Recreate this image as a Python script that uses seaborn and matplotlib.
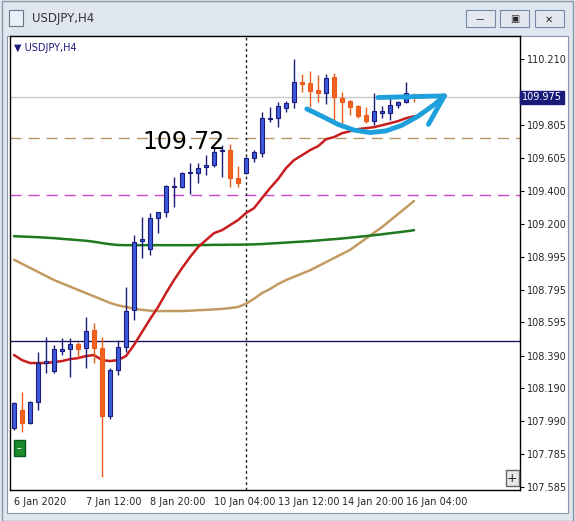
import numpy as np
import pandas as pd
import matplotlib.pyplot as plt
import seaborn as sns
from matplotlib.patches import Rectangle

sns.set_style("white")
plt.rcParams['font.family'] = ['DejaVu Sans']

# H4 candles, 6 Jan 2020 00:00 onward (prices)
opens = [107.947, 108.057, 107.978, 108.106, 108.346, 108.297, 108.419, 108.431, 108.462, 108.438,
         108.548, 108.438, 108.021, 108.303, 108.444, 108.671, 109.094, 109.045, 109.235, 109.272,
         109.425, 109.425, 109.511, 109.511, 109.548, 109.560, 109.646, 109.652, 109.480, 109.511,
         109.603, 109.633, 109.842, 109.848, 109.909, 109.946, 110.069, 110.063, 110.020, 110.001,
         110.100, 109.971, 109.952, 109.922, 109.867, 109.830, 109.879, 109.879, 109.928, 109.946,
         109.990]
closes = [108.100, 107.978, 108.106, 108.346, 108.358, 108.431, 108.431, 108.462, 108.431, 108.542,
          108.438, 108.021, 108.303, 108.444, 108.665, 109.088, 109.106, 109.235, 109.272, 109.431,
          109.431, 109.511, 109.517, 109.542, 109.560, 109.640, 109.652, 109.480, 109.450, 109.603,
          109.640, 109.848, 109.848, 109.922, 109.940, 110.069, 110.057, 110.014, 110.001, 110.093,
          109.977, 109.946, 109.916, 109.860, 109.830, 109.891, 109.891, 109.928, 109.946, 110.001,
          109.975]
highs = [108.106, 108.168, 108.110, 108.413, 108.505, 108.456, 108.499, 108.499, 108.474, 108.628,
         108.591, 108.505, 108.315, 108.487, 108.812, 109.131, 109.241, 109.266, 109.272, 109.437,
         109.486, 109.517, 109.572, 109.572, 109.621, 109.664, 109.683, 109.689, 109.554, 109.609,
         109.652, 109.885, 109.916, 109.946, 109.952, 110.210, 110.118, 110.136, 110.112, 110.118,
         110.124, 110.008, 109.959, 109.928, 109.916, 110.001, 109.922, 109.989, 109.952, 110.069,
         110.000]
lows = [107.935, 107.922, 107.970, 108.057, 108.284, 108.284, 108.395, 108.260, 108.376, 108.315,
        108.346, 107.646, 108.002, 108.272, 108.413, 108.609, 108.990, 109.008, 109.143, 109.241,
        109.302, 109.419, 109.382, 109.450, 109.499, 109.548, 109.486, 109.425, 109.425, 109.505,
        109.578, 109.609, 109.824, 109.793, 109.885, 109.909, 110.008, 109.916, 109.946, 109.934,
        109.824, 109.817, 109.867, 109.848, 109.817, 109.805, 109.848, 109.836, 109.909, 109.940,
        109.946]

ma_red = [108.395, 108.364, 108.346, 108.346, 108.346, 108.352, 108.358, 108.370, 108.376, 108.389,
          108.395, 108.364, 108.358, 108.364, 108.389, 108.457, 108.536, 108.615, 108.689, 108.775,
          108.855, 108.928, 108.996, 109.057, 109.100, 109.143, 109.161, 109.192, 109.223, 109.266,
          109.296, 109.358, 109.419, 109.474, 109.542, 109.591, 109.621, 109.652, 109.676, 109.719,
          109.732, 109.756, 109.768, 109.781, 109.787, 109.793, 109.805, 109.817, 109.830, 109.848,
          109.860]
ma_green = [109.124, 109.122, 109.120, 109.118, 109.115, 109.112, 109.108, 109.104, 109.100, 109.096,
            109.090, 109.082, 109.075, 109.070, 109.069, 109.069, 109.069, 109.069, 109.069, 109.069,
            109.069, 109.069, 109.069, 109.070, 109.070, 109.071, 109.071, 109.072, 109.072, 109.073,
            109.074, 109.076, 109.079, 109.082, 109.085, 109.088, 109.091, 109.094, 109.098, 109.102,
            109.106, 109.110, 109.115, 109.120, 109.125, 109.130, 109.136, 109.142, 109.148, 109.154,
            109.161]
ma_tan = [108.980, 108.955, 108.930, 108.905, 108.880, 108.855, 108.835, 108.815, 108.795, 108.775,
          108.755, 108.735, 108.715, 108.700, 108.690, 108.680, 108.672, 108.667, 108.665, 108.665,
          108.665, 108.665, 108.667, 108.670, 108.672, 108.675, 108.678, 108.683, 108.690, 108.710,
          108.740, 108.775, 108.800, 108.830, 108.855, 108.875, 108.895, 108.915, 108.940, 108.965,
          108.990, 109.015, 109.040, 109.075, 109.110, 109.145, 109.180, 109.220, 109.260, 109.300,
          109.340]

price_ticks = [110.210, 110.015, 109.805, 109.605, 109.400, 109.200, 108.995, 108.795,
               108.595, 108.390, 108.190, 107.990, 107.785, 107.585]
date_pos = [0, 9, 17, 25, 33, 41, 49]
date_labels = ['6 Jan 2020', '7 Jan 12:00', '8 Jan 20:00', '10 Jan 04:00',
               '13 Jan 12:00', '14 Jan 20:00', '16 Jan 04:00']

level_tan = 109.725
level_magenta = 109.376
level_navy = 108.480
bid = 109.975
vline_bar = 29

# hand-drawn arrow (bar index, price)
arrow_x = [36.6, 38.5, 40.5, 42.5, 44.5, 46.5, 48.5, 50.5, 52.5, 53.8]
arrow_y = [109.905, 109.860, 109.810, 109.775, 109.760, 109.770, 109.805, 109.860, 109.930, 109.985]
head_x = [45.5, 53.8, 51.8]
head_y = [109.975, 109.985, 109.810]

bars = pd.DataFrame({'i': np.arange(len(opens)), 'open': opens, 'close': closes,
                     'high': highs, 'low': lows, 'red': ma_red, 'green': ma_green, 'tan': ma_tan})

fig = plt.figure(figsize=(5.75, 5.21), dpi=100)
fig.patch.set_facecolor('#dfe6ee')
# window chrome (drawn behind the axes)
fig.add_artist(Rectangle((0.004, 0.0), 0.992, 0.999, transform=fig.transFigure,
                         facecolor='#dfe6ee', edgecolor='#8a97a8', lw=1, zorder=-10))
fig.add_artist(Rectangle((0.012, 0.015), 0.976, 0.915, transform=fig.transFigure,
                         facecolor='white', edgecolor='#8a97a8', lw=0.8, zorder=-9))
fig.text(0.055, 0.965, 'USDJPY,H4', fontsize=8.5, color='#333333', va='center')
fig.add_artist(Rectangle((0.015, 0.95), 0.025, 0.03, transform=fig.transFigure,
                         facecolor='#e8f0f8', edgecolor='#667788', lw=0.8))
for bx in [0.81, 0.87, 0.93]:
    fig.add_artist(Rectangle((bx, 0.948), 0.05, 0.032, transform=fig.transFigure,
                             facecolor='#e4e8ee', edgecolor='#7788aa', lw=0.8))
fig.text(0.835, 0.963, '—', fontsize=6, ha='center', va='center')
fig.text(0.895, 0.963, '▣', fontsize=7, ha='center', va='center')
fig.text(0.955, 0.963, '✕', fontsize=7, ha='center', va='center')

ax = fig.add_axes([0.0174, 0.0595, 0.887, 0.871])
ax.set_facecolor('white')

up = bars[bars['close'] >= bars['open']]
dn = bars[bars['close'] < bars['open']]
ax.vlines(up['i'], up['low'], up['high'], color='#1a1a7a', lw=1, zorder=3)
ax.vlines(dn['i'], dn['low'], dn['high'], color='#ec5a1a', lw=1, zorder=3)
ax.bar(up['i'], up['close'] - up['open'], bottom=up['open'], width=0.6,
       color='#3b5bdb', edgecolor='#1a1a7a', lw=0.8, zorder=4)
ax.bar(dn['i'], dn['open'] - dn['close'], bottom=dn['close'], width=0.6,
       color='#f0621e', edgecolor='#ec5a1a', lw=0.8, zorder=4)

sns.lineplot(data=bars, x='i', y='tan', color='#c39a62', lw=1.8, ax=ax, zorder=2)
sns.lineplot(data=bars, x='i', y='green', color='#1f7a1f', lw=1.8, ax=ax, zorder=2)
sns.lineplot(data=bars, x='i', y='red', color='#c81e1e', lw=1.8, ax=ax, zorder=2)

ax.axhline(level_tan, color='#b8946a', lw=1, dashes=(8, 5), zorder=1)
ax.axhline(level_magenta, color='#cc44cc', lw=1, dashes=(8, 5), zorder=1)
ax.axhline(level_navy, color='#1a1a5a', lw=1, zorder=1)
ax.axhline(bid, color='#c8c8c8', lw=1, zorder=1)
ax.axvline(vline_bar, color='#222222', lw=1, ls=(0, (2, 2)), zorder=1)

ax.text(16, level_tan - 0.02, '109.72', fontsize=17, color='black', va='center', zorder=6)

ax.plot(arrow_x, arrow_y, color='#1ea0dc', lw=3.5, solid_capstyle='round', zorder=7)
ax.plot(head_x, head_y, color='#1ea0dc', lw=3.5, solid_capstyle='round',
        solid_joinstyle='round', zorder=7)

ax.set_xlim(-0.5, 63.25)
ax.set_ylim(107.567, 110.351)
ax.yaxis.tick_right()
ax.set_yticks(price_ticks)
# 110.015 is hidden behind the bid marker in the terminal
ax.set_yticklabels(['' if p == 110.015 else f'{p:.3f}' for p in price_ticks], fontsize=7)
ax.set_xticks(date_pos)
ax.set_xticklabels(date_labels, fontsize=7, ha='left')
ax.tick_params(axis='both', length=3, color='black', pad=2)
ax.set_xlabel('')
ax.set_ylabel('')
for s in ax.spines.values():
    s.set_color('black')
    s.set_linewidth(1)

# current price marker on the right scale
ax.text(1.004, bid, f'{bid:.3f}', transform=ax.get_yaxis_transform(), fontsize=7,
        color='white', va='center', ha='left',
        bbox=dict(boxstyle='square,pad=0.2', fc='#1a1a7a', ec='#1a1a7a'), zorder=8)

ax.text(0.008, 0.985, '▼ USDJPY,H4', transform=ax.transAxes, fontsize=7,
        color='#1a1a7a', va='top')
ax.text(0.018, 0.093, '–', transform=ax.transAxes, fontsize=7, color='white',
        ha='center', va='center',
        bbox=dict(boxstyle='square,pad=0.3', fc='#1a8a2a', ec='#0a5a1a'))
ax.text(0.985, 0.012, '+', transform=ax.transAxes, fontsize=9, ha='center', va='bottom',
        bbox=dict(boxstyle='square,pad=0.1', fc='#e8e8e8', ec='#666666'))

fig.savefig('out.png', dpi=100, facecolor=fig.get_facecolor())
